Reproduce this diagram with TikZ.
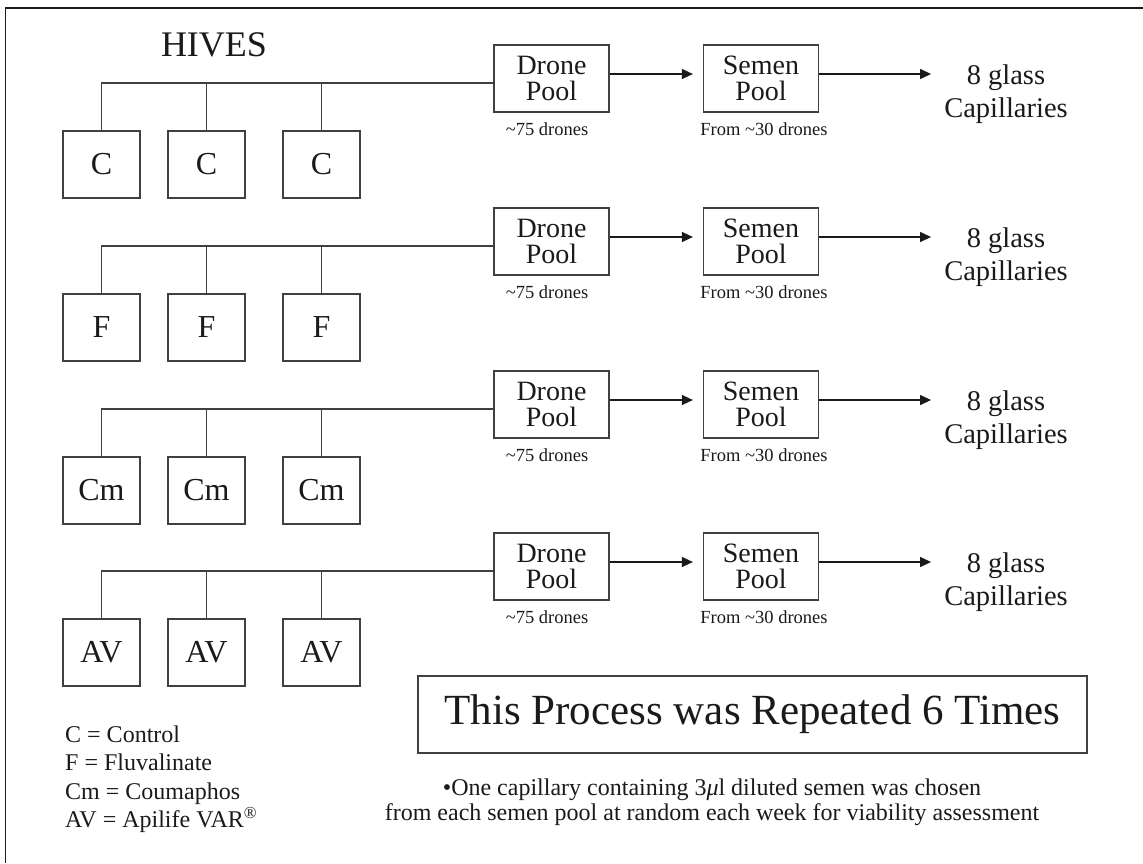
\documentclass[tikz,border=0pt]{standalone}
\usepackage{fontspec}
\setmainfont{Liberation Serif}
\usetikzlibrary{arrows.meta,calc}
\definecolor{ink}{HTML}{1A1A1A}
\definecolor{edge}{HTML}{404040}

\begin{document}
\begin{tikzpicture}[
  x=1pt, y=-1pt,
  hive/.style={rectangle, draw=edge, line width=1.2pt, minimum width=77pt, minimum height=67pt, inner sep=0pt, text=ink, font=\fontsize{32}{32}\selectfont},
  pool/.style={rectangle, draw=edge, line width=1.2pt, minimum width=115pt, minimum height=67pt, inner sep=0pt, align=center, text=ink, font=\fontsize{28}{26}\selectfont},
  capil/.style={align=center, inner sep=3pt, text=ink, font=\fontsize{28.5}{33}\selectfont},
  cnt/.style={text=ink, font=\fontsize{18.5}{20}\selectfont},
  bus/.style={draw=edge, line width=1.2pt},
  arr/.style={-{Triangle[length=11pt,width=10pt]}, draw=ink, line width=1.2pt, shorten >=10pt},
]
\useasboundingbox (0,0) rectangle (1143,863);
\draw[line width=1.5pt, draw=ink] (5.5,863) -- (5.5,8) -- (1143,8);

\node[text=ink, font=\fontsize{36}{36}\selectfont] (hives) at (214,45) {HIVES};

\node[hive] (c1) at (101.5,164.5) {C};
\node[hive] (c2) at (206.5,164.5) {C};
\node[hive] (c3) at (321.5,164.5) {C};
\node[pool] (drone1) at (551.5,78.5) {Drone\\Pool};
\node[pool] (semen1) at (761,78.5) {Semen\\Pool};
\node[capil] (cap1) at (1006,94) {8 glass\\Capillaries};
\node[cnt] (dn1) at (547,129) {\textasciitilde75 drones};
\node[cnt] (sn1) at (764,129) {From \textasciitilde30 drones};
\coordinate (b1) at ([yshift=-4.5pt]drone1.west);
\draw[bus] (c1.north) |- (b1);
\draw[bus] (c2.north) -- (c2 |- b1);
\draw[bus] (c3.north) -- (c3 |- b1);
\draw[arr] ([yshift=4.5pt]drone1.east) -- ([yshift=4.5pt]semen1.west);
\draw[arr] ([yshift=4.5pt]semen1.east) -- ([yshift=4.5pt]semen1.east -| cap1.west);

\node[hive] (f1) at (101.5,327.5) {F};
\node[hive] (f2) at (206.5,327.5) {F};
\node[hive] (f3) at (321.5,327.5) {F};
\node[pool] (drone2) at (551.5,241.5) {Drone\\Pool};
\node[pool] (semen2) at (761,241.5) {Semen\\Pool};
\node[capil] (cap2) at (1006,257) {8 glass\\Capillaries};
\node[cnt] (dn2) at (547,292) {\textasciitilde75 drones};
\node[cnt] (sn2) at (764,292) {From \textasciitilde30 drones};
\coordinate (b2) at ([yshift=-4.5pt]drone2.west);
\draw[bus] (f1.north) |- (b2);
\draw[bus] (f2.north) -- (f2 |- b2);
\draw[bus] (f3.north) -- (f3 |- b2);
\draw[arr] ([yshift=4.5pt]drone2.east) -- ([yshift=4.5pt]semen2.west);
\draw[arr] ([yshift=4.5pt]semen2.east) -- ([yshift=4.5pt]semen2.east -| cap2.west);

\node[hive] (cm1) at (101.5,490.5) {Cm};
\node[hive] (cm2) at (206.5,490.5) {Cm};
\node[hive] (cm3) at (321.5,490.5) {Cm};
\node[pool] (drone3) at (551.5,404.5) {Drone\\Pool};
\node[pool] (semen3) at (761,404.5) {Semen\\Pool};
\node[capil] (cap3) at (1006,420) {8 glass\\Capillaries};
\node[cnt] (dn3) at (547,455) {\textasciitilde75 drones};
\node[cnt] (sn3) at (764,455) {From \textasciitilde30 drones};
\coordinate (b3) at ([yshift=-4.5pt]drone3.west);
\draw[bus] (cm1.north) |- (b3);
\draw[bus] (cm2.north) -- (cm2 |- b3);
\draw[bus] (cm3.north) -- (cm3 |- b3);
\draw[arr] ([yshift=4.5pt]drone3.east) -- ([yshift=4.5pt]semen3.west);
\draw[arr] ([yshift=4.5pt]semen3.east) -- ([yshift=4.5pt]semen3.east -| cap3.west);

\node[hive] (av1) at (101.5,652.5) {AV};
\node[hive] (av2) at (206.5,652.5) {AV};
\node[hive] (av3) at (321.5,652.5) {AV};
\node[pool] (drone4) at (551.5,566.5) {Drone\\Pool};
\node[pool] (semen4) at (761,566.5) {Semen\\Pool};
\node[capil] (cap4) at (1006,582) {8 glass\\Capillaries};
\node[cnt] (dn4) at (547,617) {\textasciitilde75 drones};
\node[cnt] (sn4) at (764,617) {From \textasciitilde30 drones};
\coordinate (b4) at ([yshift=-4.5pt]drone4.west);
\draw[bus] (av1.north) |- (b4);
\draw[bus] (av2.north) -- (av2 |- b4);
\draw[bus] (av3.north) -- (av3 |- b4);
\draw[arr] ([yshift=4.5pt]drone4.east) -- ([yshift=4.5pt]semen4.west);
\draw[arr] ([yshift=4.5pt]semen4.east) -- ([yshift=4.5pt]semen4.east -| cap4.west);

\node[rectangle, draw=edge, line width=1.2pt, minimum width=669pt, minimum height=77pt, text=ink, font=\fontsize{43}{43}\selectfont] (repeat) at (752.5,714.5) {This Process was Repeated 6 Times};

\node[anchor=west, align=left, inner sep=0pt, text=ink, font=\fontsize{24}{28.5}\selectfont] (legend) at (65,779) {
  C = Control\\
  F = Fluvalinate\\
  Cm = Coumaphos\\
  AV = Apilife VAR\textsuperscript{®}
};

\node[align=center, inner sep=0pt, text=ink, font=\fontsize{24}{25}\selectfont] (note) at (712,802) {
  •One capillary containing 3\textit{μ}l diluted semen was chosen\\
  from each semen pool at random each week for viability assessment
};

\end{tikzpicture}
\end{document}
